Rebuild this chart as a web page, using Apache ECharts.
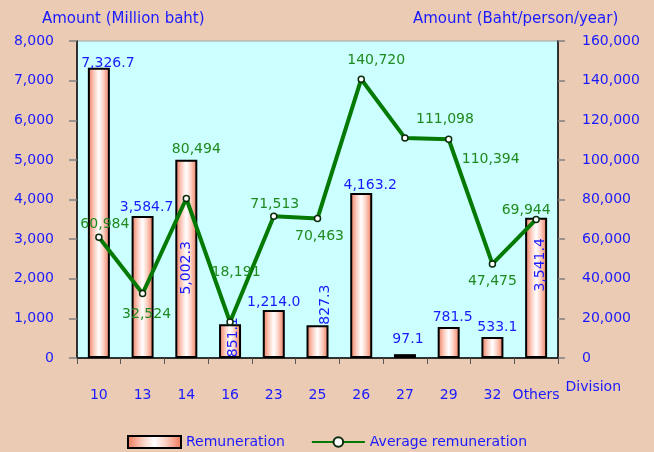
<!DOCTYPE html>
<html>
<head>
<meta charset="utf-8">
<script src="https://cdn.jsdelivr.net/npm/echarts@6/dist/echarts.min.js"></script>
<style>
html,body{margin:0;padding:0;background:#EBCBB3;}
#chart{width:654px;height:452px;}
</style>
</head>
<body>
<div id="chart"></div>
<script>
var categories = ['10','13','14','16','23','25','26','27','29','32','Others'];
var remuneration = [7326.7, 3584.7, 5002.3, 851.1, 1214.0, 827.3, 4163.2, 97.1, 781.5, 533.1, 3541.4];
var averageRemuneration = [60984, 32524, 80494, 18191, 71513, 70463, 140720, 111098, 110394, 47475, 69944];
var leftTicks = {min: 0, max: 8000, interval: 1000};
var rightTicks = {min: 0, max: 160000, interval: 20000};

// label placement (style only); rotated offsets are in the rotated text frame
var barLabelRotated = [false,false,true,true,false,true,false,false,false,false,true];
var barLabelOffset = [[9,4],[4,-1],[-9,0],[4,3],[0,0],[37,8],[9,0],[3,-7],[4,-2],[5,-2],[23,4]];
var lineLabelOffset = [[6,-1],[4,33],[10,-37],[6,-38],[1,0],[2,30],[15,-7],[40,-7],[42,32],[0,29],[-10,3]];

var FONT = 'DejaVu Sans';
var BLUE = '#1a1aff';
var GREEN = '#1f8a1f';

function fmt(v, dec) {
  var s = v.toFixed(dec);
  var parts = s.split('.');
  parts[0] = parts[0].replace(/\B(?=(\d{3})+(?!\d))/g, ',');
  return parts.join('.');
}

var barGradient = new echarts.graphic.LinearGradient(0, 0, 1, 0, [
  {offset: 0, color: '#EE7656'},
  {offset: 0.3, color: '#FCD2C6'},
  {offset: 0.5, color: '#FFFFFF'},
  {offset: 0.7, color: '#FCD2C6'},
  {offset: 1, color: '#EE7656'}
]);

var barData = remuneration.map(function (v, i) {
  var rot = barLabelRotated[i];
  return {
    value: v,
    label: rot ? {
      show: true, position: 'inside', rotate: 90, offset: barLabelOffset[i]
    } : {
      show: true, position: 'top', distance: 0, offset: barLabelOffset[i]
    }
  };
});

var lineData = averageRemuneration.map(function (v, i) {
  return {value: v, label: {show: true, position: 'top', distance: 0, offset: lineLabelOffset[i]}};
});

var chart = echarts.init(document.getElementById('chart'), null, {renderer: 'canvas'});
chart.setOption({
  backgroundColor: '#EBCBB3',
  animation: false,
  textStyle: {fontFamily: FONT},
  title: [
    {text: 'Amount (Million baht)', left: 42, top: 12, padding: 0,
     textStyle: {fontFamily: FONT, fontSize: 15, fontWeight: 'normal', color: BLUE}},
    {text: 'Amount (Baht/person/year)', left: 413, top: 12, padding: 0,
     textStyle: {fontFamily: FONT, fontSize: 15, fontWeight: 'normal', color: BLUE}}
  ],
  grid: {left: 77, right: 96, top: 41, bottom: 94, show: true,
         backgroundColor: '#CCFFFF', borderColor: '#9aa7a7', borderWidth: 1},
  legend: {
    left: 127, top: 435, itemWidth: 53, itemHeight: 12, itemGap: 26, padding: 0,
    textStyle: {fontFamily: FONT, fontSize: 14, color: BLUE},
    data: [{name: 'Remuneration', icon: 'rect'}, {name: 'Average remuneration'}]
  },
  xAxis: {
    type: 'category', data: categories, boundaryGap: true,
    axisLine: {lineStyle: {color: '#000', width: 1.5}},
    axisTick: {show: true, length: 6, lineStyle: {color: '#555'}},
    axisLabel: {fontFamily: FONT, fontSize: 14, color: BLUE, margin: 30, interval: 0},
    name: 'Division', nameLocation: 'end', nameGap: 7,
    nameTextStyle: {fontFamily: FONT, fontSize: 14, color: BLUE, align: 'left', verticalAlign: 'top', padding: [22, 0, 0, 0]}
  },
  yAxis: [
    {type: 'value', min: leftTicks.min, max: leftTicks.max, interval: leftTicks.interval, position: 'left',
     axisLine: {show: true, lineStyle: {color: '#000', width: 1.5}},
     axisTick: {show: true, length: 8, lineStyle: {color: '#808080', width: 1.5}},
     splitLine: {show: false},
     axisLabel: {fontFamily: FONT, fontSize: 14, color: BLUE, margin: 23,
       formatter: function (v) { return fmt(v, 0); }}},
    {type: 'value', min: rightTicks.min, max: rightTicks.max, interval: rightTicks.interval, position: 'right',
     axisLine: {show: true, lineStyle: {color: '#000', width: 1.5}},
     axisTick: {show: true, length: 7, lineStyle: {color: '#808080', width: 1.5}},
     splitLine: {show: false},
     axisLabel: {fontFamily: FONT, fontSize: 14, color: BLUE, margin: 24,
       formatter: function (v) { return fmt(v, 0); }}}
  ],
  series: [
    {
      name: 'Remuneration', type: 'bar', yAxisIndex: 0, barWidth: 22,
      itemStyle: {color: barGradient, borderColor: '#000', borderWidth: 2},
      label: {show: true, fontFamily: FONT, fontSize: 14, lineHeight: 16, color: BLUE,
        formatter: function (p) { return fmt(p.value, 1); }},
      data: barData, z: 2
    },
    {
      name: 'Average remuneration', type: 'line', yAxisIndex: 1,
      lineStyle: {color: '#047a04', width: 4},
      itemStyle: {color: '#ffffff', borderColor: '#0b2a0b', borderWidth: 1.5},
      symbol: 'circle', symbolSize: 6, showAllSymbol: true,
      label: {show: true, fontFamily: FONT, fontSize: 14, lineHeight: 16, color: GREEN,
        formatter: function (p) { return fmt(p.value, 0); }},
      data: lineData, z: 3
    }
  ]
});
</script>
</body>
</html>
